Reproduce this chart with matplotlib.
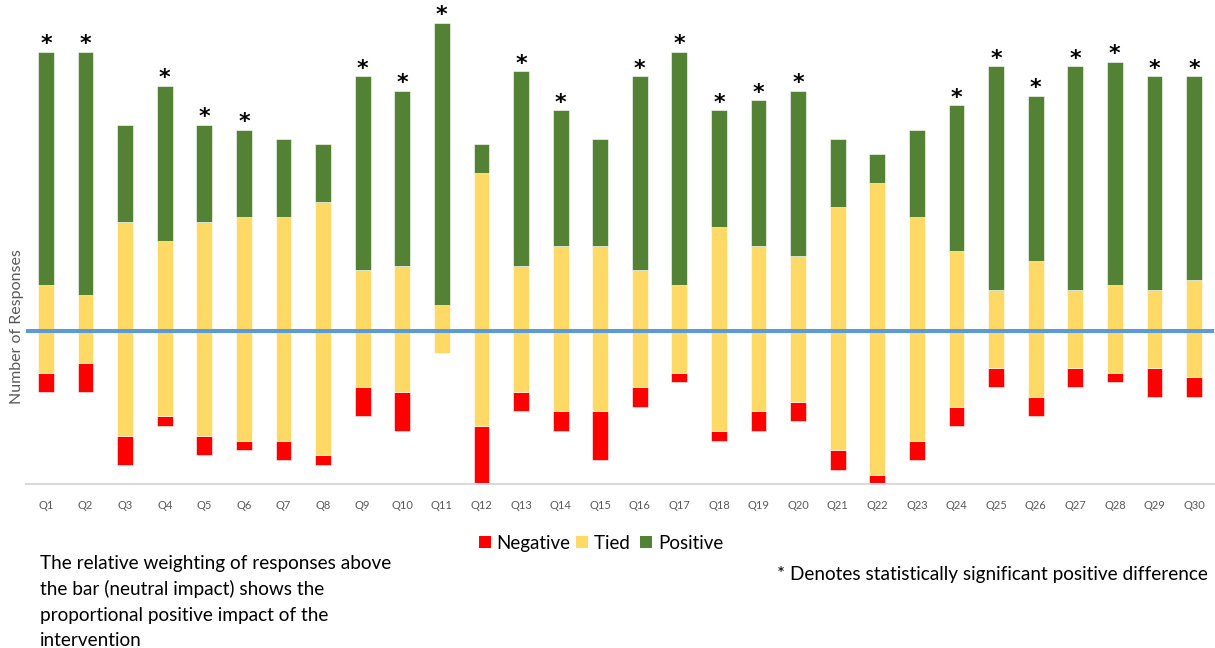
import matplotlib
matplotlib.use("Agg")
import matplotlib.pyplot as plt
from matplotlib.patches import Patch
import numpy as np

plt.rcParams['font.family'] = ['Lato', 'DejaVu Sans']

questions = [f"Q{i}" for i in range(1, 31)]
negative = [2, 3, 3, 1, 2, 1, 2, 1, 3, 4, 0, 6, 2, 2, 5, 2, 1, 1, 2, 2, 2, 1, 2, 2, 2, 2, 2, 1, 3, 2]
tied = [9, 7, 22, 18, 22, 23, 23, 26, 12, 13, 5, 26, 13, 17, 17, 12, 9, 21, 17, 15, 25, 30, 23, 16, 8, 14, 8, 9, 8, 10]
positive = [24, 25, 10, 16, 10, 9, 8, 6, 20, 18, 29, 3, 20, 14, 11, 20, 24, 12, 15, 17, 7, 3, 9, 15, 23, 17, 23, 23, 22, 21]
# portion of the tied responses drawn below the neutral line
tied_below = [4.5, 3.5, 11, 9, 11, 11.5, 11.5, 13, 6, 6.5, 2.5, 10, 6.5, 8.5, 8.5, 6, 4.5, 10.5, 8.5, 7.5,
              12.5, 15, 11.5, 8, 4, 7, 4, 4.5, 4, 5]
significant = [1, 1, 0, 1, 1, 1, 0, 0, 1, 1, 1, 0, 1, 1, 0, 1, 1, 1, 1, 1, 0, 0, 0, 1, 1, 1, 1, 1, 1, 1]

legend_labels = ["Negative", "Tied ", "Positive"]
note_left = ["The relative weighting of responses above ",
             "the bar (neutral impact) shows the ",
             "proportional positive impact of the ",
             "intervention"]
note_right = "* Denotes statistically significant positive difference"
ylabel = "Number of Responses"

c_neg = "#FF0000"
c_tied = "#FFD966"
c_pos = "#548235"
c_line = "#5B9BD5"

W, H = 1215, 648
fig = plt.figure(figsize=(W / 100, H / 100), dpi=100)
ax = fig.add_axes([26.2 / W, 1 - 484.3 / H, (1213.8 - 26.2) / W, (484.3 - 17.8) / H])

x = np.arange(len(questions))
neg = np.array(negative, float)
tie = np.array(tied, float)
pos = np.array(positive, float)
tb = np.array(tied_below, float)

bw = 0.40
ec = dict(edgecolor="white", linewidth=0.4)
ax.bar(x, neg, bw, bottom=-tb - neg, color=c_neg, **ec)
ax.bar(x, tie, bw, bottom=-tb, color=c_tied, **ec)
ax.bar(x, pos, bw, bottom=tie - tb, color=c_pos, **ec)

ax.axhline(-0.25, color=c_line, linewidth=2.9, zorder=3)

tops = tie - tb + pos
for xi, t, s in zip(x, tops, significant):
    if s:
        ax.annotate("*", (xi, t), xytext=(0, 1.0), textcoords="offset points",
                    ha="center", va="baseline", fontsize=16, fontweight="bold", color="black",
                    family="DejaVu Sans", annotation_clip=False)

ax.set_xlim(-0.5, len(questions) - 0.5)
ax.set_ylim(-16, 32)
ax.set_xticks(x)
ax.set_xticklabels(questions, fontsize=8, color="#595959")
ax.tick_params(axis="x", length=0, pad=11)
ax.set_yticks([])
for side in ["top", "right", "left"]:
    ax.spines[side].set_visible(False)
ax.spines["bottom"].set_color("#D9D9D9")
ax.spines["bottom"].set_linewidth(1.5)

fig.text(17.5 / W, 1 - 327 / H, ylabel, rotation=90, ha="center", va="center",
         fontsize=11.5, color="#595959")

handles = [Patch(facecolor=c, edgecolor="none") for c in (c_neg, c_tied, c_pos)]
fig.legend(handles, legend_labels, loc="center", bbox_to_anchor=(601 / W, 1 - 543.3 / H),
           ncol=3, frameon=False, fontsize=13.5, handlelength=0.64, handleheight=0.64,
           handletextpad=0.3, columnspacing=0.3, borderaxespad=0, borderpad=0)

baselines = [569.3, 595.0, 620.7, 645.5]
for line, yb in zip(note_left, baselines):
    fig.text(40 / W, 1 - yb / H, line, ha="left", va="baseline", fontsize=13.7, color="black")

fig.text(777 / W, 1 - 580 / H, note_right, ha="left", va="baseline", fontsize=13.7, color="black")

fig.savefig("out.png", dpi=100)
